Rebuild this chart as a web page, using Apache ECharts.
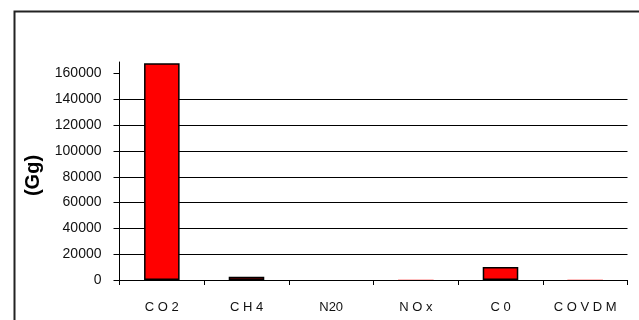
<!DOCTYPE html>
<html>
<head>
<meta charset="utf-8">
<script src="https://cdn.jsdelivr.net/npm/echarts@6/dist/echarts.min.js"></script>
<style>
html,body{margin:0;padding:0;background:#fff;}
#chart{width:639px;height:320px;}
</style>
</head>
<body>
<div id="chart"></div>
<script>
const categories = ['C O 2', 'C H 4', 'N20', 'N O x', 'C 0', 'C O V D M'];
const emissions = [168000, 2500, 10, 150, 10000, 250];
const yTicks = [0, 20000, 40000, 60000, 80000, 100000, 120000, 140000, 160000];
const yAxisName = '(Gg)';

const chart = echarts.init(document.getElementById('chart'), null, {renderer: 'canvas'});
const font = 'Liberation Sans, Arial, sans-serif';
const barData = emissions.map(v => ({
  value: v,
  itemStyle: v < 1000 ? {borderWidth: 0} : {}
}));
chart.setOption({
  animation: false,
  backgroundColor: '#fff',
  graphic: [{
    type: 'rect',
    left: 12, top: 9,
    shape: {width: 700, height: 400},
    style: {fill: 'none', stroke: '#222', lineWidth: 2},
    z: 100
  }],
  grid: {left: 119.5, right: 11.5, top: 62, bottom: 40, containLabel: false},
  xAxis: {
    type: 'category',
    data: categories,
    boundaryGap: true,
    axisLine: {show: true, lineStyle: {color: '#000', width: 1}},
    axisTick: {show: true, length: 5, alignWithLabel: false, lineStyle: {color: '#000'}},
    axisLabel: {color: '#111', fontFamily: font, fontSize: 13, margin: 21, interval: 0},
    splitLine: {show: false}
  },
  yAxis: {
    type: 'value',
    min: 0,
    max: 169000,
    interval: 20000,
    name: yAxisName,
    nameLocation: 'middle',
    nameRotate: 90,
    nameGap: 74,
    nameTextStyle: {fontFamily: font, fontSize: 20, fontWeight: 'bold', color: '#000', padding: [0, 0, 0, -9]},
    axisLine: {show: true, lineStyle: {color: '#000', width: 1}},
    axisTick: {show: true, length: 6, inside: false, customValues: yTicks, lineStyle: {color: '#000'}},
    axisLabel: {color: '#111', fontFamily: font, fontSize: 14, margin: 18, customValues: yTicks,
      formatter: v => String(v)},
    splitLine: {show: true, showMaxLine: false, lineStyle: {color: '#000', width: 1}}
  },
  series: [{
    type: 'bar',
    data: barData,
    barWidth: '42%',
    itemStyle: {color: '#ff0000', borderColor: '#000', borderWidth: 1.5}
  }]
});
</script>
</body>
</html>
